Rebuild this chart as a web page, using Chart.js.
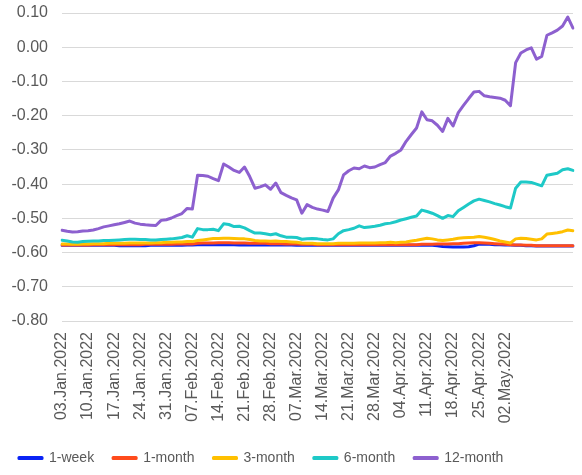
<!DOCTYPE html>
<html>
<head>
<meta charset="utf-8">
<script src="https://cdn.jsdelivr.net/npm/chart.js@4.4.1/dist/chart.umd.min.js"></script>
<style>
  html, body { margin: 0; padding: 0; background: #fff; }
  #wrap { width: 582px; height: 475px; }
</style>
</head>
<body>
<div id="wrap"><canvas id="rateChart"></canvas></div>
<script>
// Business days from 03.Jan.2022 (99 points)
const monthNames = ['Jan', 'Feb', 'Mar', 'Apr', 'May', 'Jun', 'Jul', 'Aug', 'Sep', 'Oct', 'Nov', 'Dec'];
const dates = [];
(function () {
    const d = new Date(Date.UTC(2022, 0, 3));
    while (dates.length < 99) {
        const wd = d.getUTCDay();
        if (wd !== 0 && wd !== 6) {
            const dd = String(d.getUTCDate()).padStart(2, '0');
            dates.push(dd + '.' + monthNames[d.getUTCMonth()] + '.' + d.getUTCFullYear());
        }
        d.setUTCDate(d.getUTCDate() + 1);
    }
})();

// Labels shown on the x axis
const tickLabels = ['03.Jan.2022', '10.Jan.2022', '17.Jan.2022', '24.Jan.2022', '31.Jan.2022',
    '07.Feb.2022', '14.Feb.2022', '21.Feb.2022', '28.Feb.2022', '07.Mar.2022', '14.Mar.2022',
    '21.Mar.2022', '28.Mar.2022', '04.Apr.2022', '11.Apr.2022', '18.Apr.2022', '25.Apr.2022',
    '02.May.2022'];

const week1 = [
    -0.579, -0.579, -0.579, -0.579, -0.579, -0.579, -0.579, -0.579, -0.579, -0.579,
    -0.579, -0.580, -0.580, -0.580, -0.580, -0.580, -0.580, -0.579, -0.579, -0.579,
    -0.579, -0.579, -0.579, -0.579, -0.578, -0.578, -0.577, -0.577, -0.577, -0.577,
    -0.577, -0.577, -0.577, -0.577, -0.578, -0.578, -0.578, -0.578, -0.578, -0.578,
    -0.578, -0.578, -0.578, -0.578, -0.578, -0.579, -0.579, -0.579, -0.579, -0.579,
    -0.579, -0.579, -0.579, -0.579, -0.579, -0.579, -0.579, -0.579, -0.579, -0.579,
    -0.579, -0.579, -0.579, -0.579, -0.579, -0.579, -0.579, -0.579, -0.579, -0.579,
    -0.579, -0.579, -0.580, -0.582, -0.583, -0.584, -0.584, -0.584, -0.583, -0.580,
    -0.575, -0.576, -0.576, -0.577, -0.577, -0.578, -0.578, -0.579, -0.579, -0.580,
    -0.580, -0.581, -0.581, -0.581, -0.581, -0.581, -0.581, -0.581, -0.581
];

const month1 = [
    -0.578, -0.578, -0.578, -0.578, -0.578, -0.578, -0.577, -0.577, -0.577, -0.577,
    -0.577, -0.577, -0.577, -0.577, -0.577, -0.577, -0.576, -0.576, -0.576, -0.576,
    -0.576, -0.576, -0.575, -0.575, -0.575, -0.575, -0.573, -0.572, -0.572, -0.572,
    -0.571, -0.571, -0.571, -0.572, -0.572, -0.572, -0.573, -0.573, -0.573, -0.573,
    -0.574, -0.574, -0.574, -0.575, -0.575, -0.575, -0.576, -0.576, -0.576, -0.577,
    -0.577, -0.577, -0.577, -0.577, -0.577, -0.577, -0.577, -0.577, -0.577, -0.577,
    -0.577, -0.577, -0.577, -0.577, -0.577, -0.577, -0.577, -0.577, -0.577, -0.576,
    -0.576, -0.576, -0.575, -0.575, -0.575, -0.574, -0.574, -0.573, -0.572, -0.571,
    -0.571, -0.572, -0.573, -0.574, -0.575, -0.576, -0.577, -0.578, -0.578, -0.579,
    -0.579, -0.580, -0.580, -0.580, -0.580, -0.580, -0.580, -0.580, -0.580
];

const month3 = [
    -0.575, -0.575, -0.576, -0.576, -0.575, -0.575, -0.574, -0.574, -0.574, -0.573,
    -0.573, -0.573, -0.573, -0.572, -0.572, -0.572, -0.572, -0.572, -0.571, -0.571,
    -0.570, -0.570, -0.569, -0.569, -0.568, -0.568, -0.565, -0.563, -0.561, -0.559,
    -0.559, -0.558, -0.558, -0.559, -0.560, -0.560, -0.562, -0.565, -0.566, -0.566,
    -0.567, -0.566, -0.568, -0.568, -0.569, -0.570, -0.572, -0.573, -0.573, -0.574,
    -0.574, -0.574, -0.574, -0.573, -0.573, -0.573, -0.573, -0.572, -0.572, -0.572,
    -0.572, -0.571, -0.571, -0.570, -0.571, -0.570, -0.569, -0.566, -0.564, -0.561,
    -0.558, -0.560, -0.563, -0.565, -0.563, -0.561, -0.558, -0.557, -0.556, -0.555,
    -0.553, -0.555, -0.558, -0.562, -0.566, -0.569, -0.572, -0.560, -0.558, -0.559,
    -0.561, -0.563, -0.560, -0.546, -0.544, -0.542, -0.539, -0.534, -0.536
];

const month6 = [
    -0.564, -0.566, -0.569, -0.570, -0.568, -0.567, -0.566, -0.566, -0.565, -0.565,
    -0.564, -0.563, -0.562, -0.561, -0.561, -0.562, -0.562, -0.563, -0.563, -0.562,
    -0.561, -0.560, -0.558, -0.556, -0.551, -0.555, -0.530, -0.533, -0.533, -0.532,
    -0.536, -0.516, -0.518, -0.524, -0.523, -0.528, -0.536, -0.543, -0.543, -0.545,
    -0.548, -0.545, -0.551, -0.555, -0.555, -0.556, -0.561, -0.560, -0.559, -0.560,
    -0.562, -0.563, -0.560, -0.545, -0.536, -0.533, -0.529, -0.522, -0.527, -0.525,
    -0.523, -0.520, -0.516, -0.514, -0.510, -0.505, -0.501, -0.497, -0.493, -0.476,
    -0.480, -0.485, -0.492, -0.500, -0.492, -0.495, -0.478, -0.468, -0.458, -0.449,
    -0.444, -0.448, -0.452, -0.457, -0.461, -0.466, -0.470, -0.412, -0.394, -0.394,
    -0.395, -0.400, -0.405, -0.374, -0.371, -0.368, -0.358, -0.355, -0.360
];

const month12 = [
    -0.535, -0.538, -0.540, -0.539, -0.537, -0.536, -0.534, -0.530, -0.525, -0.522,
    -0.519, -0.516, -0.512, -0.508, -0.514, -0.517, -0.519, -0.520, -0.521, -0.506,
    -0.504, -0.499, -0.492, -0.486, -0.471, -0.473, -0.374, -0.375, -0.377, -0.384,
    -0.390, -0.341, -0.350, -0.360, -0.366, -0.350, -0.378, -0.412, -0.408, -0.402,
    -0.415, -0.397, -0.425, -0.433, -0.440, -0.446, -0.485, -0.460, -0.468, -0.473,
    -0.476, -0.480, -0.441, -0.417, -0.373, -0.361, -0.353, -0.355, -0.347, -0.352,
    -0.350, -0.343, -0.337, -0.318, -0.310, -0.300, -0.275, -0.255, -0.236, -0.189,
    -0.212, -0.215, -0.228, -0.246, -0.208, -0.230, -0.191, -0.170, -0.150, -0.131,
    -0.129, -0.142, -0.145, -0.147, -0.149, -0.155, -0.171, -0.045, -0.017, -0.008,
    -0.002, -0.035, -0.027, 0.035, 0.042, 0.050, 0.062, 0.088, 0.056
];

const fontFamily = '"Liberation Sans", Arial, sans-serif';
const textColor = '#595959';

function lineSet(label, data, color, order) {
    return {
        label: label,
        data: data,
        borderColor: color,
        backgroundColor: color,
        borderWidth: 3,
        pointRadius: 0,
        borderJoinStyle: 'round',
        borderCapStyle: 'round',
        fill: false,
        tension: 0,
        order: order
    };
}

new Chart(document.getElementById('rateChart'), {
    type: 'line',
    data: {
        labels: dates,
        datasets: [
            lineSet('1-week', week1, '#0a24f5', 5),
            lineSet('1-month', month1, '#ff4b1c', 4),
            lineSet('3-month', month3, '#ffc000', 3),
            lineSet('6-month', month6, '#1ec9c7', 2),
            lineSet('12-month', month12, '#8d60cf', 1)
        ]
    },
    options: {
        responsive: true,
        maintainAspectRatio: false,
        animation: false,
        layout: {
            padding: { top: 13, right: 9, left: 0, bottom: 0 }
        },
        scales: {
            x: {
                grid: { display: false },
                border: { display: false },
                ticks: {
                    autoSkip: false,
                    minRotation: 90,
                    maxRotation: 90,
                    padding: 3,
                    color: textColor,
                    font: { family: fontFamily, size: 16 },
                    callback: function (val) {
                        const l = this.getLabelForValue(val);
                        return tickLabels.includes(l) ? l : null;
                    }
                },
                afterFit: (scale) => { scale.height = 111; }
            },
            y: {
                min: -0.8,
                max: 0.1,
                // invisible tick marks keep the gap between labels and plot
                grid: { color: '#d9d9d9', lineWidth: 1, drawTicks: true, tickLength: 14, tickColor: 'rgba(0,0,0,0)' },
                border: { display: false },
                ticks: {
                    stepSize: 0.1,
                    padding: 0,
                    color: textColor,
                    font: { family: fontFamily, size: 16 },
                    callback: (v) => (Math.abs(v) < 1e-9 ? 0 : v).toFixed(2)
                },
                afterFit: (scale) => { scale.width = 62; }
            }
        },
        plugins: {
            legend: {
                position: 'bottom',
                align: 'start',
                labels: {
                    boxWidth: 23,
                    boxHeight: 1,
                    padding: 19,
                    color: textColor,
                    font: { family: fontFamily, size: 14 },
                    sort: (a, b) => a.datasetIndex - b.datasetIndex
                }
            },
            tooltip: { enabled: false }
        }
    }
});
</script>
</body>
</html>
